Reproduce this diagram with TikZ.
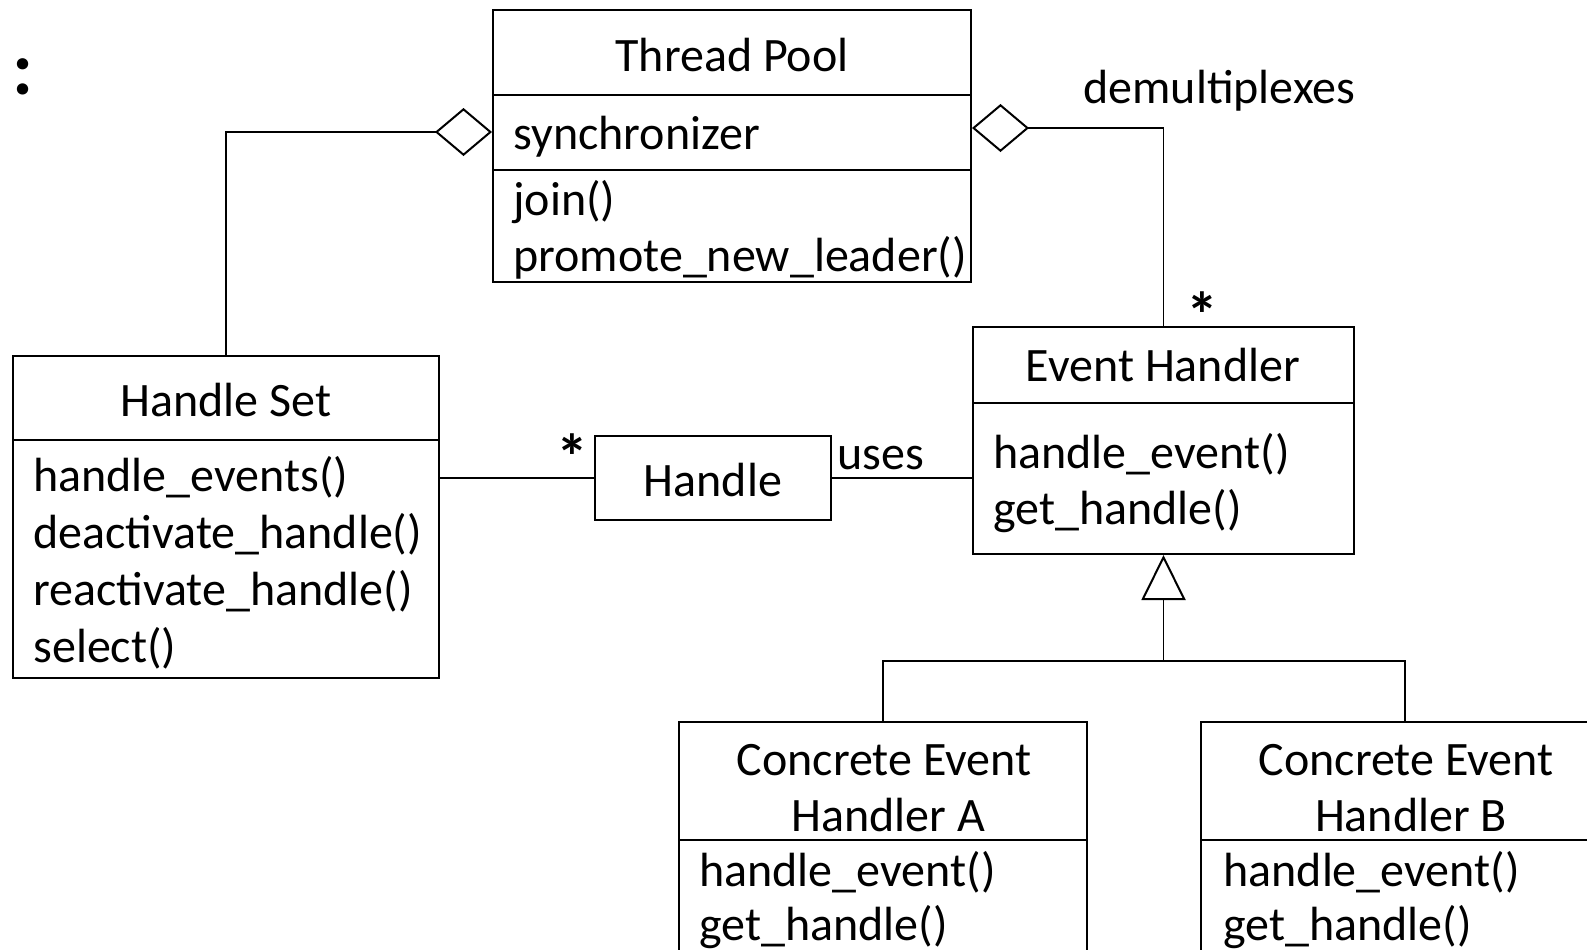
\documentclass[tikz,border=0pt]{standalone}
\usepackage{fontspec}
\setmainfont{Carlito}
\usetikzlibrary{arrows.meta,fit}
\begin{document}
\begin{tikzpicture}[x=0.5pt,y=-0.5pt,
  box/.style={draw,line width=1pt,inner sep=0pt},
  txt/.style={inner sep=0pt,font=\fontsize{24}{28}\selectfont},
  lbl/.style={txt,anchor=base west},
  ttl/.style={txt,anchor=base},
  star/.style={inner sep=0pt,anchor=center,font=\fontsize{32}{34}\bfseries},
  conn/.style={line width=0.8pt},
  agg/.style={conn,-{Diamond[open,length=28.5pt,width=24pt,line width=1pt]}},
  inh/.style={conn,-{Triangle[open,length=22.5pt,width=22pt,line width=1pt]}}]
\useasboundingbox (0,0) rectangle (1587,949);
\clip (0,0) rectangle (1587,949);
% colon
\node[inner sep=0pt,anchor=base,font=\fontsize{38}{40}\bfseries] (colon) at (23,94) {:};
% Thread Pool
\node[box,fit={(493,10) (971,282)}] (tp) {};
\draw[line width=1pt] (tp.west |- 0,95) -- (tp.east |- 0,95);
\draw[line width=1pt] (tp.west |- 0,170) -- (tp.east |- 0,170);
\node[ttl] (tpt) at (732,71) {Thread Pool};
\node[lbl] (tpa) at (513,149) {synchronizer};
\node[lbl] (tpm1) at (513,215) {join()};
\node[lbl] (tpm2) at (513,271) {promote\_new\_leader()};
% Handle Set
\node[box,fit={(13,356) (439,678)}] (hs) {};
\draw[line width=1pt] (hs.west |- 0,440) -- (hs.east |- 0,440);
\node[ttl] (hst) at (226,416) {Handle Set};
\node[lbl] (hsm1) at (33,491) {handle\_events()};
\node[lbl] (hsm2) at (33,548) {deactivate\_handle()};
\node[lbl] (hsm3) at (33,605) {reactivate\_handle()};
\node[lbl] (hsm4) at (33,662) {select()};
% Handle
\node[box,fit={(595,436) (831,520)}] (h) {};
\node[ttl] (ht) at (713,496) {Handle};
% Event Handler
\node[box,fit={(973,327) (1354,554)}] (eh) {};
\draw[line width=1pt] (eh.west |- 0,403) -- (eh.east |- 0,403);
\node[ttl] (eht) at (1163,381) {Event Handler};
\node[lbl] (ehm1) at (993,468) {handle\_event()};
\node[lbl] (ehm2) at (993,524) {get\_handle()};
% Concrete A
\node[box,fit={(679,722) (1087,1000)}] (ca) {};
\draw[line width=1pt] (ca.west |- 0,840) -- (ca.east |- 0,840);
\node[ttl] (cat1) at (884,775) {Concrete Event};
\node[ttl] (cat2) at (888,831) {Handler A};
\node[lbl] (cam1) at (699,886) {handle\_event()};
\node[lbl] (cam2) at (699,940) {get\_handle()};
% Concrete B
\node[box,fit={(1201,722) (1609,1000)}] (cb) {};
\draw[line width=1pt] (cb.west |- 0,840) -- (cb.east |- 0,840);
\node[ttl] (cbt1) at (1406,775) {Concrete Event};
\node[ttl] (cbt2) at (1411,831) {Handler B};
\node[lbl] (cbm1) at (1223,886) {handle\_event()};
\node[lbl] (cbm2) at (1223,940) {get\_handle()};
% connectors
\draw[agg] (hs.north) |- (tp.west |- 0,132);
\draw[agg] (eh.north) |- (tp.east |- 0,128);
\node[lbl] (demux) at (1083,103) {demultiplexes};
\node[star] (star1) at (1202,315) {*};
\draw[conn] (hs.east |- h.west) -- (h.west);
\draw[conn] (h.east) -- (eh.west |- h.east);
\node[star] (star2) at (572,457) {*};
\node[lbl] (uses) at (837,469) {uses};
\coordinate (junc) at (1163.5,661);
\draw[conn] (ca.north) |- (junc) -| (cb.north);
\draw[inh] (junc) -- (eh.south);
\end{tikzpicture}
\end{document}
